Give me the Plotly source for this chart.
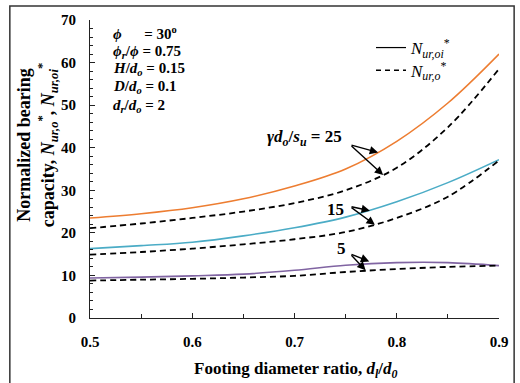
import plotly.graph_objects as go

# Footing diameter ratio d_l/d_0
ratio = [0.5, 0.55, 0.6, 0.65, 0.7, 0.75, 0.8, 0.85, 0.9]

# N_ur,oi* (solid) and N_ur,o* (dashed) for gamma*d_o/s_u = 25, 15, 5
nuroi_25 = [23.5, 24.5, 25.9, 28.0, 31.0, 35.0, 41.5, 50.5, 62.0]
nuro_25 = [21.1, 22.2, 23.5, 25.0, 27.0, 30.0, 35.3, 44.8, 58.5]
nuroi_15 = [16.3, 17.0, 17.8, 19.3, 21.2, 23.7, 27.3, 31.8, 37.2]
nuro_15 = [14.9, 15.5, 16.3, 17.3, 18.5, 20.2, 23.5, 28.5, 37.0]
nuroi_5 = [9.4, 9.6, 9.9, 10.3, 11.2, 12.4, 13.0, 13.0, 12.3]
nuro_5 = [8.8, 9.0, 9.2, 9.5, 9.9, 10.8, 11.5, 12.0, 12.3]

colors = {"25": "#ED7D31", "15": "#4BACC6", "5": "#8064A2"}
FONT = "Liberation Serif"

fig = go.Figure()
for key, solid, dashed in [("25", nuroi_25, nuro_25), ("15", nuroi_15, nuro_15), ("5", nuroi_5, nuro_5)]:
    fig.add_trace(go.Scatter(x=ratio, y=solid, mode="lines", showlegend=False,
                             line=dict(color=colors[key], width=1.6, shape="spline")))
    fig.add_trace(go.Scatter(x=ratio, y=dashed, mode="lines", showlegend=False,
                             line=dict(color="black", width=1.8, dash="6px,4px", shape="spline")))

# legend entries (two separate legends for exact spacing)
fig.add_trace(go.Scatter(x=[None], y=[None], mode="lines", name="<i>N</i><sub><i>ur,oi</i></sub><sup>*</sup>",
                         line=dict(color="black", width=1.2), legend="legend"))
fig.add_trace(go.Scatter(x=[None], y=[None], mode="lines", name="<i>N</i><sub><i>ur,o</i></sub><sup>*</sup>",
                         line=dict(color="black", width=1.5, dash="5px,4px"), legend="legend2"))

annotations = []
# parameter block
params = [
    "<b><i>ϕ</i>\u00a0\u00a0\u00a0\u00a0\u00a0 = 30<sup>o</sup></b>",
    "<b><i>ϕ<sub>r</sub></i>/<i>ϕ</i> = 0.75</b>",
    "<b><i>H</i>/<i>d<sub>o</sub></i> = 0.15</b>",
    "<b><i>D</i>/<i>d<sub>o</sub></i> = 0.1</b>",
    "<b><i>d<sub>r</sub></i>/<i>d<sub>o</sub></i> = 2</b>",
]
param_y = [66.9, 62.6, 58.4, 54.2, 49.9]
for txt, yy in zip(params, param_y):
    annotations.append(dict(x=0.521, y=yy, xref="x", yref="y", text=txt, showarrow=False,
                            xanchor="left", yanchor="middle", font=dict(family=FONT, size=15, color="black")))

# labels with arrows
labels = [
    ("<b><i>γd<sub>o</sub></i>/<i>s<sub>u</sub></i> = 25</b>", 0.7099, 42.3, 0.7543, 40.7, [(0.7818, 38.9), (0.7867, 33.6)]),
    ("<b>15</b>", 0.7397, 25.4, 0.7543, 26.2, [(0.7738, 25.2), (0.7786, 21.9)]),
    ("<b>5</b>", 0.7462, 16.4, 0.7543, 15.1, [(0.7731, 13.3), (0.7695, 11.2)]),
]
for txt, tx, ty, ax, ay, heads in labels:
    annotations.append(dict(x=tx, y=ty, xref="x", yref="y", text=txt, showarrow=False,
                            font=dict(family=FONT, size=17, color="black")))
    for hx, hy in heads:
        annotations.append(dict(x=hx, y=hy, ax=ax, ay=ay, xref="x", yref="y", axref="x", ayref="y",
                                text="", showarrow=True, arrowhead=2, arrowsize=1.2, arrowwidth=1.4,
                                arrowcolor="black", standoff=0))

# axis titles
annotations.append(dict(x=-0.1287, y=0.581, xref="paper", yref="paper", textangle=-90,
                        xanchor="center", yanchor="middle",
                        text="<b>Normalized bearing<br>capacity, <i>N<sub>ur,o</sub></i><sup>*</sup>, <i>N<sub>ur,oi</sub></i><sup>*</sup></b>",
                        showarrow=False, font=dict(family=FONT, size=18, color="black"), align="center"))
annotations.append(dict(x=0.504, y=-0.175, xref="paper", yref="paper", xanchor="center", yanchor="middle",
                        text="<b>Footing diameter ratio, <i>d<sub>l</sub></i>/<i>d<sub>0</sub></i></b>",
                        showarrow=False, font=dict(family=FONT, size=17, color="black")))

legend_style = dict(xanchor="left", yanchor="middle", bgcolor="rgba(0,0,0,0)",
                    font=dict(family=FONT, size=17, color="black"), itemwidth=30)

fig.update_layout(
    width=520, height=383,
    margin=dict(l=90, r=18, t=20, b=65),
    paper_bgcolor="white", plot_bgcolor="white",
    font=dict(family=FONT, color="black"),
    annotations=annotations,
    showlegend=True,
    legend=dict(x=0.687, y=0.906, **legend_style),
    legend2=dict(x=0.687, y=0.830, **legend_style),
    shapes=[dict(type="rect", xref="paper", yref="paper", x0=-0.196, x1=1.037, y0=-0.3, y1=1.047,
                 line=dict(color="#333", width=1.5), fillcolor="rgba(0,0,0,0)", layer="above")],
)
fig.update_xaxes(range=[0.5, 0.9], dtick=0.1, tickformat=".1f", showline=True, linecolor="#222", linewidth=1.2,
                 ticks="inside", ticklen=5, tickcolor="#222", showgrid=False, zeroline=False,
                 tickfont=dict(family=FONT, size=15, color="black", weight="bold"), ticklabelstandoff=10,
                 minor=dict(dtick=0.05, ticks="inside", ticklen=4, tickcolor="#222"))
fig.update_yaxes(range=[0, 70], dtick=10, showline=True, linecolor="#222", linewidth=1.2,
                 ticks="inside", ticklen=5, tickcolor="#222", showgrid=False, zeroline=False,
                 tickfont=dict(family=FONT, size=15, color="black", weight="bold"), ticklabelstandoff=10,
                 minor=dict(dtick=2, ticks="inside", ticklen=3, tickcolor="#222"))

fig.write_html("out.html", config={"displayModeBar": False},
               post_script="document.body.style.margin='0px';")
